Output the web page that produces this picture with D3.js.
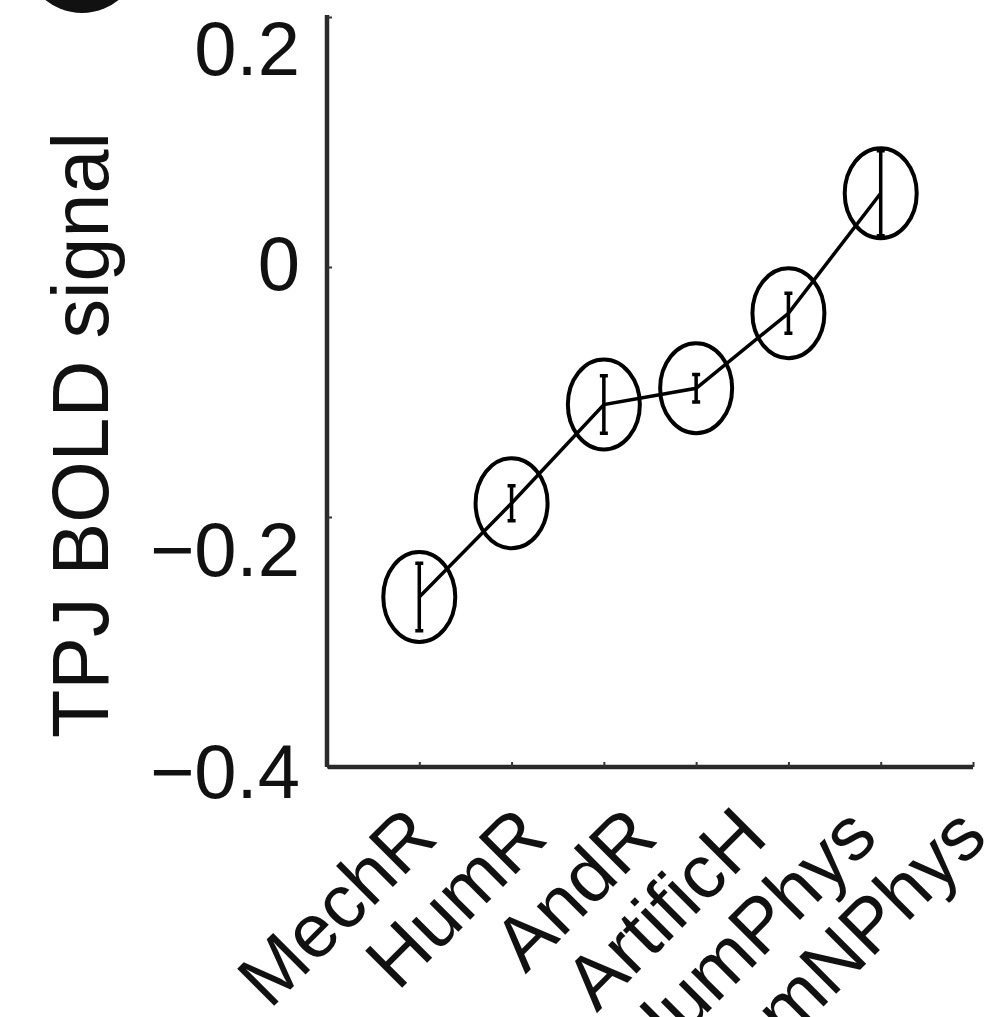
<!DOCTYPE html>
<html>
<head>
<meta charset="utf-8">
<script src="https://cdn.jsdelivr.net/npm/d3@7"></script>
<style>
  html, body { margin: 0; padding: 0; background: #fff; }
  svg { display: block; font-family: Arial, "Liberation Sans", sans-serif; }
</style>
</head>
<body>
<svg width="989" height="1017"></svg>
<script>
const conditions = ["MechR", "HumR", "AndR", "ArtificH", "HumPhys", "HumNPhys"];
const means = [-0.264, -0.189, -0.110, -0.097, -0.037, 0.059];
const errors = [0.027, 0.014, 0.023, 0.011, 0.016, 0.034];
const yTicks = [-0.4, -0.2, 0, 0.2];
const yTitle = "TPJ BOLD signal";

function drawChart() {
  let svg = d3.select("svg");

  let x = d3.scaleLinear().domain([0, 7]).range([327, 973]);
  let y = d3.scaleLinear().domain([-0.4, 0.2]).range([767, 17]);
  // labels in the figure are spread a bit wider than the ticks
  let labelX = d3.scaleLinear().domain([1, 6]).range([440, 990]);

  // panel badge, cut off at the top edge
  svg.append("circle")
    .attr("cx", 82).attr("cy", -45).attr("r", 58)
    .style("fill", "#111");

  // y axis
  let yAxis = svg.append("g")
    .attr("transform", "translate(" + x(0) + ",0)")
    .call(d3.axisLeft(y).tickValues(yTicks).tickSizeInner(-5).tickSizeOuter(0)
      .tickFormat((d) => d === 0 ? "0" : d3.format(".1f")(d)));
  yAxis.select(".domain")
    .attr("d", "M0," + (y(0.2) - 2) + "V" + y(-0.4))
    .style("stroke", "#2a2a2a").style("stroke-width", 4.5);
  yAxis.selectAll(".tick line").style("stroke", "#333").style("stroke-width", 2);
  const nudge = {"0.2": 30, "0": -5, "-0.2": 31, "-0.4": 3};
  yAxis.selectAll(".tick text")
    .attr("x", -27)
    .attr("dy", (d) => (nudge[String(d)] || 0) + 27)
    .style("font-size", "76px")
    .style("fill", "#111");

  // x axis
  let xAxis = svg.append("g")
    .attr("transform", "translate(0," + y(-0.4) + ")")
    .call(d3.axisBottom(x).tickValues(d3.range(1, 8)).tickSizeInner(-5).tickSizeOuter(0)
      .tickFormat(""));
  xAxis.select(".domain")
    .attr("d", "M" + (x(0) + 1) + ",0H" + x(7))
    .style("stroke", "#2a2a2a").style("stroke-width", 4.5);
  xAxis.selectAll(".tick line").style("stroke", "#333").style("stroke-width", 2);

  svg.append("g")
    .selectAll("text")
    .data(conditions)
    .enter().append("text")
    .attr("transform", (d, i) => "translate(" + labelX(i + 1) + "," + 840 + ") rotate(-45)")
    .attr("text-anchor", "end")
    .style("font-size", "76px")
    .style("fill", "#111")
    .text((d) => d);

  // y title
  svg.append("text")
    .attr("transform", "translate(108," + 435 + ") rotate(-90)")
    .attr("text-anchor", "middle")
    .style("font-size", "79px")
    .style("fill", "#111")
    .text(yTitle);

  // connecting line
  let line = d3.line()
    .x((d, i) => x(i + 1))
    .y((d) => y(d));
  svg.append("path")
    .datum(means)
    .attr("d", line)
    .style("fill", "none")
    .style("stroke", "#000")
    .style("stroke-width", 3.5);

  let pts = svg.append("g")
    .selectAll("g")
    .data(means)
    .enter().append("g");

  // error bars
  pts.append("path")
    .attr("d", (d, i) => {
      let cx = x(i + 1), t = y(d + errors[i]), b = y(d - errors[i]);
      return "M" + cx + "," + t + "V" + b +
        "M" + (cx - 4) + "," + t + "H" + (cx + 4) +
        "M" + (cx - 4) + "," + b + "H" + (cx + 4);
    })
    .style("fill", "none")
    .style("stroke", "#000")
    .style("stroke-width", 3.5);

  // ellipse markers
  pts.append("ellipse")
    .attr("cx", (d, i) => x(i + 1))
    .attr("cy", (d) => y(d))
    .attr("rx", 36)
    .attr("ry", 45)
    .style("fill", "none")
    .style("stroke", "#000")
    .style("stroke-width", 4);
}

drawChart();
</script>
</body>
</html>
